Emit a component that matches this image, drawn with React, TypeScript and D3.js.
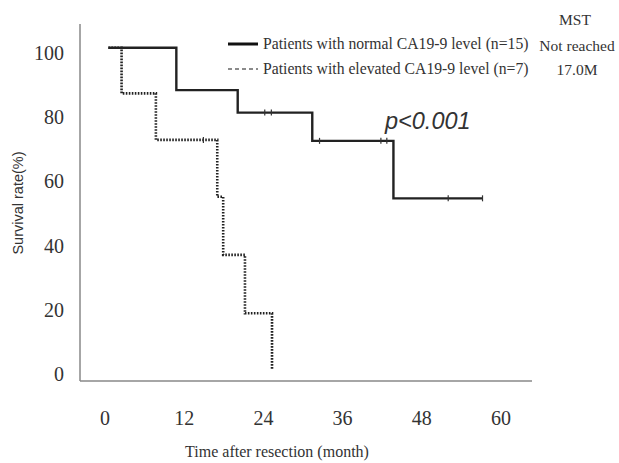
import React from "react";
import * as d3 from "d3";

// Kaplan-Meier steps (month, survival %)
const normalTimes = [0.5, 10.8, 20.1, 31.4, 43.7, 57.2];
const normalSurv = [101.6, 88.4, 81.4, 72.6, 54.7, 54.7];
const normalCensorTimes = [24.2, 25.2, 32.5, 41.8, 42.7, 52, 57.2];
const normalCensorSurv = [81.4, 81.4, 72.6, 72.6, 72.6, 54.7, 54.7];

const elevatedTimes = [0.5, 2.5, 7.7, 17, 17.9, 21.2, 25.3];
const elevatedSurv = [101.6, 87.4, 72.9, 55.2, 37.1, 18.9, 1.2];
const elevatedCensorTimes = [14.9];
const elevatedCensorSurv = [72.9];

const xTicks = [0, 12, 24, 36, 48, 60];
const yTicks = [0, 20, 40, 60, 80, 100];

const legendLabels = [
  "Patients with normal CA19-9 level (n=15)",
  "Patients with elevated CA19-9 level (n=7)",
];
const mstLabels = ["Not reached", "17.0M"];

const serif = "'Liberation Serif', 'Times New Roman', serif";
const sans = "'Liberation Sans', Arial, sans-serif";

const App = () => {
  const x = d3.scaleLinear().domain([-3.8, 64.7]).range([80, 532]);
  const y = d3.scaleLinear().domain([-2.2, 109]).range([381, 24]);

  const line = d3
    .line<[number, number]>()
    .x((d) => x(d[0]))
    .y((d) => y(d[1]))
    .curve(d3.curveStepAfter);

  const normalPts = normalTimes.map((t, i) => [t, normalSurv[i]] as [number, number]);
  const elevatedPts = elevatedTimes.map((t, i) => [t, elevatedSurv[i]] as [number, number]);

  const censors = (times: number[], surv: number[], key: string) =>
    times.map((t, i) => (
      <line
        key={key + i}
        x1={x(t)}
        x2={x(t)}
        y1={y(surv[i]) - 3}
        y2={y(surv[i]) + 3}
        stroke="#333"
        strokeWidth={1.2}
      />
    ));

  return (
    <svg
      width={619}
      height={463}
      style={{ position: "absolute", left: 0, top: 0, background: "#fff" }}
    >
      {/* axes */}
      <line x1={x(-3.8)} x2={x(-3.8)} y1={y(109)} y2={y(-2.2)} stroke="#888" strokeWidth={1.5} />
      <line x1={x(-3.8)} x2={x(64.7)} y1={y(-2.2)} y2={y(-2.2)} stroke="#888" strokeWidth={1.5} />

      {yTicks.map((t) => (
        <text
          key={"y" + t}
          x={64}
          y={y(t)}
          dy="0.35em"
          textAnchor="end"
          fontFamily={serif}
          fontSize={20}
          fill="#333"
        >
          {t}
        </text>
      ))}
      {xTicks.map((t) => (
        <text
          key={"x" + t}
          x={x(t)}
          y={418}
          dy="0.35em"
          textAnchor="middle"
          fontFamily={serif}
          fontSize={20}
          fill="#333"
        >
          {t}
        </text>
      ))}

      <text
        x={277}
        y={451}
        dy="0.35em"
        textAnchor="middle"
        fontFamily={serif}
        fontSize={16}
        fill="#333"
      >
        Time after resection (month)
      </text>
      <text
        transform={`translate(18,203) rotate(-90)`}
        dy="0.35em"
        textAnchor="middle"
        fontFamily={sans}
        fontSize={14.5}
        fill="#333"
      >
        Survival rate(%)
      </text>

      {/* curves */}
      <path d={line(elevatedPts) || ""} fill="none" stroke="#222" strokeWidth={2.6} strokeDasharray="1.6,1.4" />
      <path d={line(normalPts) || ""} fill="none" stroke="#222" strokeWidth={2.4} />
      {censors(normalCensorTimes, normalCensorSurv, "n")}
      {censors(elevatedCensorTimes, elevatedCensorSurv, "e")}

      {/* legend */}
      <line x1={228} x2={258} y1={44} y2={44} stroke="#111" strokeWidth={3} />
      <line x1={228} x2={258} y1={69} y2={69} stroke="#666" strokeWidth={1.4} strokeDasharray="4,3" />
      {legendLabels.map((l, i) => (
        <text
          key={l}
          x={263}
          y={44 + i * 25}
          dy="0.35em"
          fontFamily={serif}
          fontSize={15.7}
          fill="#333"
        >
          {l}
        </text>
      ))}
      <text x={575} y={20} dy="0.35em" textAnchor="middle" fontFamily={serif} fontSize={15.5} fill="#333">
        MST
      </text>
      {mstLabels.map((l, i) => (
        <text
          key={l}
          x={577}
          y={46 + i * 24}
          dy="0.35em"
          textAnchor="middle"
          fontFamily={serif}
          fontSize={15.5}
          fill="#333"
        >
          {l}
        </text>
      ))}

      <text
        x={385}
        y={121}
        dy="0.35em"
        fontFamily={sans}
        fontStyle="italic"
        fontSize={23.5}
        fill="#333"
      >
        p&lt;0.001
      </text>
    </svg>
  );
};

export default App;
